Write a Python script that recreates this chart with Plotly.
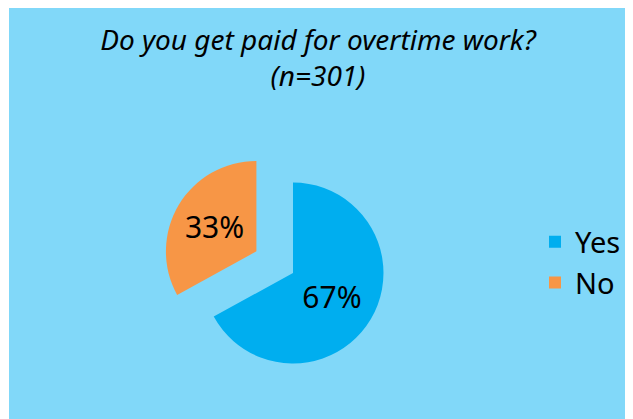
import plotly.graph_objects as go

categories = ["Yes", "No"]
values = [67, 33]
colors = ["#00aeef", "#f79646"]
title_line1 = "Do you get paid for overtime work?"
title_line2 = "(n=301)"

# page body has an 8px margin; figure sized to fill the rest of the window
W, H = 625, 411
cx, cy, half = 285, 265, 133

fig = go.Figure(go.Pie(
    labels=categories,
    values=values,
    marker=dict(colors=colors, line=dict(width=0)),
    sort=False,
    direction="clockwise",
    rotation=0,
    pull=[0, 0.47],
    texttemplate="%{percent:.0%}",
    textposition="inside",
    insidetextorientation="horizontal",
    textfont=dict(family="Noto Sans", size=30, color="black"),
    hoverinfo="label+percent",
    domain=dict(x=[(cx - half) / W, (cx + half) / W],
                y=[(H - (cy + half)) / H, (H - (cy - half)) / H]),
))

fig.update_layout(
    width=W, height=H,
    margin=dict(l=0, r=0, t=0, b=0),
    paper_bgcolor="white",
    shapes=[dict(type="rect", xref="paper", yref="paper",
                 x0=1 / W, x1=1.0, y0=0, y1=1.0,
                 fillcolor="#81d8f9", line=dict(width=0), layer="below")],
    title=dict(text=f"<i>{title_line1}<br>{title_line2}</i>",
               x=310 / W, xanchor="center", y=1 - 42 / H, yanchor="top",
               font=dict(family="Noto Sans", size=28, color="black")),
    legend=dict(x=527 / W, xanchor="left", y=1 - 254.5 / H, yanchor="middle",
                font=dict(family="Noto Sans", size=29, color="black"),
                bgcolor="rgba(0,0,0,0)"),
)

fig.write_html("out.html")
